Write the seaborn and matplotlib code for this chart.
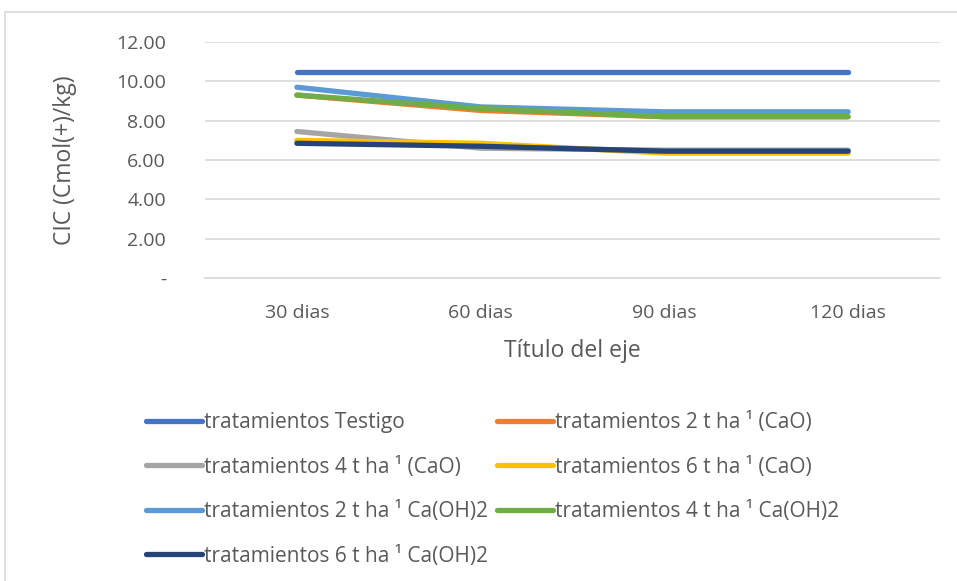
import pandas as pd
import matplotlib.pyplot as plt
import seaborn as sns
from matplotlib.patches import Rectangle
from matplotlib.ticker import FuncFormatter

dias = ["30 dias", "60 dias", "90 dias", "120 dias"]
testigo = [10.48, 10.48, 10.48, 10.48]
cao_2 = [9.30, 8.52, 8.20, 8.20]
cao_4 = [7.45, 6.60, 6.50, 6.50]
cao_6 = [7.00, 6.85, 6.35, 6.35]
caoh_2 = [9.70, 8.70, 8.45, 8.45]
caoh_4 = [9.30, 8.62, 8.20, 8.20]
caoh_6 = [6.85, 6.70, 6.45, 6.45]

nombres = ["tratamientos Testigo", "tratamientos 2 t ha \u00b9 (CaO)",
           "tratamientos 4 t ha \u00b9 (CaO)", "tratamientos 6 t ha \u00b9 (CaO)",
           "tratamientos 2 t ha \u00b9 Ca(OH)2", "tratamientos 4 t ha \u00b9 Ca(OH)2",
           "tratamientos 6 t ha \u00b9 Ca(OH)2"]
series = [testigo, cao_2, cao_4, cao_6, caoh_2, caoh_4, caoh_6]
colores = ["#4472C4", "#ED7D31", "#A5A5A5", "#FFC000", "#5B9BD5", "#70AD47", "#264478"]

rows = []
for n, vals in zip(nombres, series):
    for d, v in zip(dias, vals):
        rows.append({"dia": d, "CIC": v, "trat": n})
df = pd.DataFrame(rows)

sns.set_style("white")
plt.rcParams["font.family"] = ["Open Sans", "DejaVu Sans"]
gris = "#595959"

fig = plt.figure(figsize=(9.57, 5.81), dpi=100)
ax = fig.add_axes([205/957, 1-278/581, 735/957, 236/581])
sns.lineplot(data=df, x="dia", y="CIC", hue="trat", palette=colores,
             hue_order=nombres, sort=False, linewidth=3.8, ax=ax,
             solid_capstyle="round", legend=False)

ax.set_ylim(0, 12)
ax.set_xlim(-0.5, 3.5)
ax.set_yticks([0, 2, 4, 6, 8, 10, 12])
ax.yaxis.set_major_formatter(FuncFormatter(lambda v, p: "-" if v == 0 else f"{v:.2f}"))
ax.grid(axis="y", color="#d9d9d9", linewidth=1.2)
ax.set_axisbelow(True)
for s in ["top", "right", "left"]:
    ax.spines[s].set_visible(False)
ax.spines["bottom"].set_color("#d9d9d9")
ax.spines["bottom"].set_linewidth(1.2)
ax.tick_params(axis="both", length=0, labelsize=14, labelcolor=gris)
ax.tick_params(axis="x", pad=19)
ax.tick_params(axis="y", pad=28)
ax.set_xlabel("Título del eje", fontsize=16.5, color=gris, labelpad=12)
ax.set_ylabel("CIC (Cmol(+)/kg)", fontsize=16.5, color=gris, labelpad=28)

# legend: reorder so rows read left to right
orden = [0, 2, 4, 6, 1, 3, 5]
handles = [plt.Line2D([], [], color=colores[i], linewidth=3.8, solid_capstyle="round") for i in orden]
labels = [nombres[i] for i in orden]
fig.legend(handles, labels, ncol=2, loc="upper left", bbox_to_anchor=(146/957, 1-412/581),
           frameon=False, fontsize=15, labelcolor=gris, handlelength=2.7,
           handletextpad=0.1, columnspacing=0.4, labelspacing=1.13, borderaxespad=0,
           borderpad=0)

fig.add_artist(Rectangle((5/957, -0.2), 1.2, 1.2 - 12/581, transform=fig.transFigure,
                         fill=False, edgecolor="#d9d9d9", linewidth=1.2))

plt.savefig("out.png", dpi=100)
plt.close()
